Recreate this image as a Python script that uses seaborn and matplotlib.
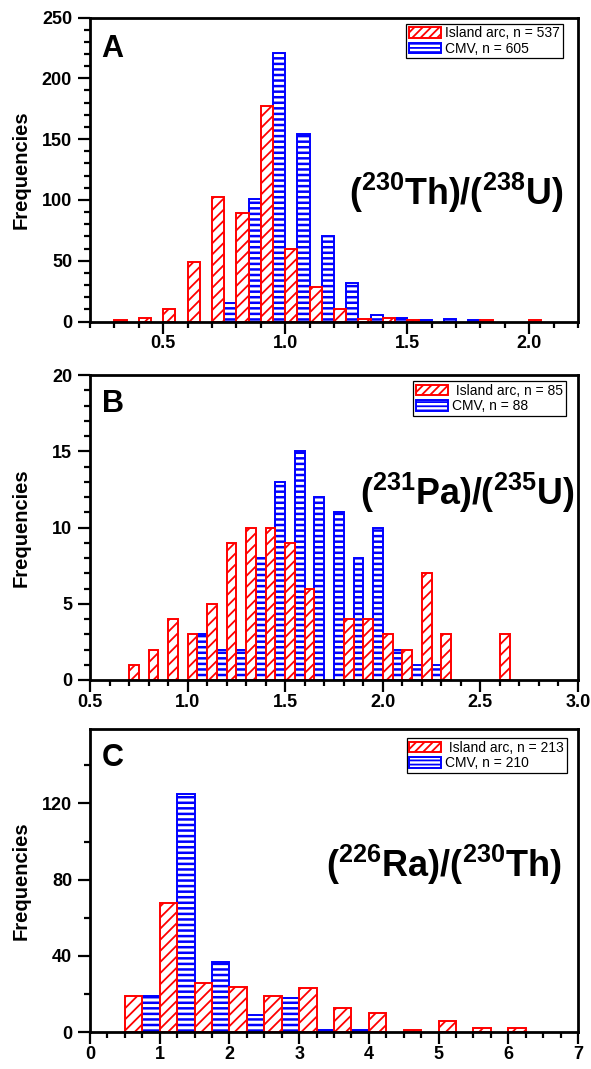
import numpy as np
import pandas as pd
import matplotlib
matplotlib.use("Agg")
import matplotlib.pyplot as plt
from matplotlib.patches import Patch
from matplotlib.ticker import MultipleLocator
import seaborn as sns

# ---- (230Th)/(238U): bins of width 0.1, given by their left edges ----
th_u_bin_left = [0.3, 0.4, 0.5, 0.6, 0.7, 0.8, 0.9, 1.0, 1.1, 1.2,
                 1.3, 1.4, 1.5, 1.6, 1.7, 1.8, 1.9, 2.0]
th_u_island = [1, 3, 10, 49, 102, 89, 177, 60, 28, 10, 2, 3, 1, 0, 0, 1, 0, 1]
th_u_cmv = [0, 0, 0, 0, 15, 101, 221, 154, 70, 32, 5, 3, 1, 2, 1, 0, 0, 0]

# ---- (231Pa)/(235U): bins of width 0.1 ----
pa_u_bin_left = [0.7, 0.8, 0.9, 1.0, 1.1, 1.2, 1.3, 1.4, 1.5, 1.6,
                 1.7, 1.8, 1.9, 2.0, 2.1, 2.2, 2.3, 2.4, 2.5, 2.6]
pa_u_island = [1, 2, 4, 3, 5, 9, 10, 10, 9, 6, 0, 4, 4, 3, 2, 7, 3, 0, 0, 3]
pa_u_cmv = [0, 0, 0, 3, 2, 2, 8, 13, 15, 12, 11, 8, 10, 2, 1, 1, 0, 0, 0, 0]

# ---- (226Ra)/(230Th): bins of width 0.5 ----
ra_th_bin_left = [0.5, 1.0, 1.5, 2.0, 2.5, 3.0, 3.5, 4.0, 4.5, 5.0, 5.5, 6.0]
ra_th_island = [19, 68, 26, 24, 19, 23, 13, 10, 1, 6, 2, 2]
ra_th_cmv = [19, 125, 37, 9, 18, 1, 1, 0, 0, 0, 0, 0]

groups = ["Island arc", "CMV"]

th_u_xticks = [0.5, 1.0, 1.5, 2.0]
th_u_xticklabels = ["0.5", "1.0", "1.5", "2.0"]
th_u_yticks = [0, 50, 100, 150, 200, 250]
pa_u_xticks = [0.5, 1.0, 1.5, 2.0, 2.5, 3.0]
pa_u_xticklabels = ["0.5", "1.0", "1.5", "2.0", "2.5", "3.0"]
pa_u_yticks = [0, 5, 10, 15, 20]
ra_th_xticks = [0, 1, 2, 3, 4, 5, 6, 7]
ra_th_xticklabels = ["0", "1", "2", "3", "4", "5", "6", "7"]
ra_th_yticks = [0, 40, 80, 120]

sns.set_theme(style="ticks")
plt.rcParams["font.family"] = ["Liberation Sans", "DejaVu Sans"]
plt.rcParams["mathtext.fontset"] = "custom"
plt.rcParams["mathtext.rm"] = "Liberation Sans"
plt.rcParams["mathtext.bf"] = "Liberation Sans:bold"
plt.rcParams["mathtext.it"] = "Liberation Sans:italic"
plt.rcParams["hatch.linewidth"] = 1.3
for key in ("text.color", "axes.labelcolor", "xtick.color", "ytick.color",
            "axes.edgecolor"):
    plt.rcParams[key] = "black"

RED = "#ff0000"
BLUE = "#0000ff"
HATCH = {RED: "///", BLUE: "---"}
HATCH_LW = {RED: 1.3, BLUE: 1.8}

W, H = 591, 1069
fig = plt.figure(figsize=(W / 100, H / 100), dpi=100)


def axes_px(top, bottom, left=90, right=578):
    return fig.add_axes([left / W, 1 - bottom / H, (right - left) / W, (bottom - top) / H])


def set_hatch_width(patch, lw):
    if hasattr(patch, "set_hatch_linewidth"):
        patch.set_hatch_linewidth(lw)


def draw_panel(ax, bin_left, width, island, cmv):
    centers = [round(b + width / 2, 4) for b in bin_left]
    df = pd.DataFrame({
        "ratio": centers + centers,
        "count": island + cmv,
        "group": [groups[0]] * len(island) + [groups[1]] * len(cmv),
    })
    edges = [round(b, 4) for b in bin_left] + [round(bin_left[-1] + width, 4)]
    sns.histplot(data=df, x="ratio", weights="count", hue="group", hue_order=groups,
                 bins=edges, multiple="dodge", shrink=1, element="bars",
                 palette={groups[0]: RED, groups[1]: BLUE}, legend=False, ax=ax)
    for p in ax.patches:
        fc = p.get_facecolor()
        col = RED if fc[0] > fc[2] else BLUE
        p.set_alpha(1)
        p.set_facecolor("white")
        p.set_edgecolor(col)
        p.set_hatch(HATCH[col])
        set_hatch_width(p, HATCH_LW[col])
        p.set_linewidth(1.4)
        p.set_visible(p.get_height() > 0)


def style_axes(ax, xlim, ylim, xticks, xticklabels, xminor, yticks, yminor):
    ax.set_xlim(*xlim)
    ax.set_ylim(*ylim)
    ax.set_xticks(xticks)
    ax.set_xticklabels(xticklabels, fontsize=13, fontweight="bold", color="black")
    ax.set_yticks(yticks)
    ax.set_yticklabels([str(v) for v in yticks], fontsize=13, fontweight="bold",
                       color="black")
    ax.xaxis.set_minor_locator(MultipleLocator(xminor))
    ax.yaxis.set_minor_locator(MultipleLocator(yminor))
    ax.tick_params(axis="both", which="major", direction="out", length=8.4, width=1.6,
                   color="black", top=False, right=False)
    ax.tick_params(axis="both", which="minor", direction="out", length=4.3, width=1.6,
                   color="black", top=False, right=False)
    ax.tick_params(axis="x", which="major", pad=1.5)
    ax.tick_params(axis="y", which="major", pad=4.5)
    for s in ax.spines.values():
        s.set_visible(True)
        s.set_linewidth(2.0)
        s.set_color("black")
    ax.set_xlabel("")
    ax.set_ylabel("Frequencies", fontsize=14.5, fontweight="bold", color="black")
    ax.yaxis.set_label_coords(-0.121, 0.5)
    ax.set_facecolor("white")


def add_legend(ax, labels, anchor):
    handles = [Patch(facecolor="white", edgecolor=RED, hatch="////", linewidth=1.4),
               Patch(facecolor="white", edgecolor=BLUE, hatch="----", linewidth=1.4)]
    set_hatch_width(handles[1], HATCH_LW[BLUE])
    leg = ax.legend(handles, labels, loc="upper right", bbox_to_anchor=anchor,
                    borderaxespad=0, fontsize=10, frameon=True, fancybox=False,
                    framealpha=1, edgecolor="black", borderpad=0.2, labelspacing=0.1,
                    handlelength=2.3, handleheight=0.8, handletextpad=0.3)
    leg.get_frame().set_linewidth(0.9)
    for t in leg.get_texts():
        t.set_color("black")


# Panel A
axA = axes_px(17.5, 321.5)
draw_panel(axA, th_u_bin_left, 0.1, th_u_island, th_u_cmv)
style_axes(axA, (0.2, 2.2), (0, 250), th_u_xticks, th_u_xticklabels, 0.1, th_u_yticks, 10)
add_legend(axA, ["Island arc, n = 537", "CMV, n = 605"], (1 - 15 / 488, 1 - 6 / 304))
axA.text(0.024, 0.871, "A", transform=axA.transAxes, fontsize=22, fontweight="bold",
         va="baseline", ha="left", color="black")
axA.text(0.969, 0.383, r"$\mathbf{(^{230}Th)/(^{238}U)}$", transform=axA.transAxes,
         fontsize=25.8, ha="right", va="baseline", color="black")

# Panel B
axB = axes_px(375, 680)
draw_panel(axB, pa_u_bin_left, 0.1, pa_u_island, pa_u_cmv)
style_axes(axB, (0.5, 3.0), (0, 20), pa_u_xticks, pa_u_xticklabels, 0.1, pa_u_yticks, 1)
add_legend(axB, [" Island arc, n = 85", "CMV, n = 88"], (1 - 12 / 488, 1 - 6 / 305))
axB.text(0.024, 0.880, "B", transform=axB.transAxes, fontsize=22, fontweight="bold",
         va="baseline", ha="left", color="black")
axB.text(0.992, 0.574, r"$\mathbf{(^{231}Pa)/(^{235}U)}$", transform=axB.transAxes,
         fontsize=25.8, ha="right", va="baseline", color="black")

# Panel C
axC = axes_px(729, 1032.3)
draw_panel(axC, ra_th_bin_left, 0.5, ra_th_island, ra_th_cmv)
style_axes(axC, (0, 7), (0, 159), ra_th_xticks, ra_th_xticklabels, 0.25, ra_th_yticks, 20)
add_legend(axC, [" Island arc, n = 213", "CMV, n = 210"], (1 - 11 / 488, 1 - 9 / 303))
axC.text(0.024, 0.878, "C", transform=axC.transAxes, fontsize=22, fontweight="bold",
         va="baseline", ha="left", color="black")
axC.text(0.967, 0.513, r"$\mathbf{(^{226}Ra)/(^{230}Th)}$", transform=axC.transAxes,
         fontsize=26, ha="right", va="baseline", color="black")

fig.savefig("out.png", dpi=100, facecolor="white")
